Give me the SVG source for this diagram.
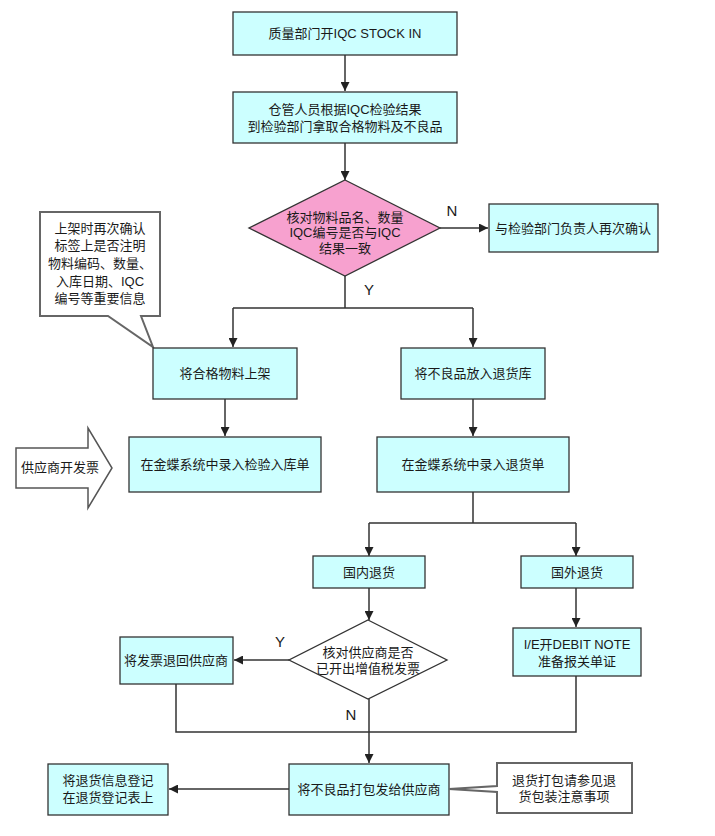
<svg xmlns="http://www.w3.org/2000/svg" width="715" height="836" viewBox="0 0 715 836">
<defs>
<marker id="ah" viewBox="0 0 10 10" refX="10" refY="5" markerWidth="9" markerHeight="9" markerUnits="userSpaceOnUse" orient="auto">
<path d="M0,0 L10,5 L0,10 Z" fill="#222"/>
</marker>
<style>
.box{fill:#ccffff;stroke:#333;stroke-width:1.3}
.dia{fill:#f7a1cf;stroke:#333;stroke-width:1.3}
.dia2{fill:#ffffff;stroke:#333;stroke-width:1.3}
.call{fill:#ffffff;stroke:#666;stroke-width:2}
.ln{fill:none;stroke:#333;stroke-width:1.5}
.ar{fill:none;stroke:#333;stroke-width:1.5;marker-end:url(#ah)}
text{font-family:"Liberation Sans","Noto Sans CJK SC",sans-serif;font-size:13px;fill:#1a1a1a;text-anchor:middle}
.lab{font-size:15px}
</style>
</defs>
<rect width="715" height="836" fill="#ffffff"/>
<g id="connectors">
<path class="ar" d="M345,55 V91"/>
<path class="ar" d="M345,143 V180"/>
<path class="ar" d="M440,228 H488"/>
<path class="ln" d="M345,276 V308 M233,308 H473"/>
<path class="ar" d="M233,308 V347"/>
<path class="ar" d="M473,308 V347"/>
<path class="ar" d="M225,399 V436"/>
<path class="ar" d="M473,399 V436"/>
<path class="ln" d="M473,492 V523 M369,523 H576"/>
<path class="ar" d="M369,523 V556"/>
<path class="ar" d="M576,523 V556"/>
<path class="ar" d="M369,588 V620"/>
<path class="ar" d="M576,588 V627"/>
<path class="ar" d="M289,660 H234"/>
<path class="ln" d="M176,684 V732 H576 V676"/>
<path class="ar" d="M369,699 V763"/>
<path class="ar" d="M289,789 H169"/>
</g>
<g id="labels">
<text class="lab" x="452" y="216">N</text>
<text class="lab" x="369" y="295">Y</text>
<text class="lab" x="280" y="647">Y</text>
<text class="lab" x="351" y="720">N</text>
</g>
<g id="n1"><rect class="box" x="233" y="12" width="224" height="43"/><text x="345" y="38">质量部门开IQC STOCK IN</text></g>
<g id="n2"><rect class="box" x="233" y="92" width="224" height="51"/><text x="345" y="114">仓管人员根据IQC检验结果</text><text x="345" y="131">到检验部门拿取合格物料及不良品</text></g>
<g id="d1"><polygon class="dia" points="345,180 440,228 345,276 249,228"/><text x="345" y="222">核对物料品名、数量</text><text x="345" y="237">IQC编号是否与IQC</text><text x="345" y="253">结果一致</text></g>
<g id="n3"><rect class="box" x="489" y="204" width="169" height="48"/><text x="573" y="233">与检验部门负责人再次确认</text></g>
<g id="callout1"><path class="call" d="M40,212 H160 V316 H141 L153,347 L108,316 H40 Z"/><text x="100" y="233">上架时再次确认</text><text x="100" y="250">标签上是否注明</text><text x="100" y="268">物料编码、数量、</text><text x="100" y="286">入库日期、IQC</text><text x="100" y="303">编号等重要信息</text></g>
<g id="n4"><rect class="box" x="153" y="348" width="144" height="51"/><text x="225" y="378">将合格物料上架</text></g>
<g id="n5"><rect class="box" x="401" y="348" width="144" height="51"/><text x="473" y="378">将不良品放入退货库</text></g>
<g id="arrow-supplier"><path class="call" style="stroke-width:1.5;stroke:#555" d="M16,448 H88 V428 L112,468 L88,508 V488 H16 Z"/><text x="60" y="472">供应商开发票</text></g>
<g id="n6"><rect class="box" x="129" y="437" width="192" height="55"/><text x="225" y="469">在金蝶系统中录入检验入库单</text></g>
<g id="n7"><rect class="box" x="377" y="437" width="192" height="55"/><text x="473" y="469">在金蝶系统中录入退货单</text></g>
<g id="n8"><rect class="box" x="313" y="556" width="112" height="32"/><text x="369" y="577">国内退货</text></g>
<g id="n9"><rect class="box" x="521" y="556" width="112" height="32"/><text x="577" y="577">国外退货</text></g>
<g id="d2"><polygon class="dia2" points="368,620 447,660 368,699 289,660"/><text x="368" y="657">核对供应商是否</text><text x="368" y="673">已开出增值税发票</text></g>
<g id="n10"><rect class="box" x="513" y="628" width="128" height="48"/><text x="577" y="649">I/E开DEBIT NOTE</text><text x="577" y="666">准备报关单证</text></g>
<g id="n11"><rect class="box" x="120" y="637" width="113" height="47"/><text x="176" y="665">将发票退回供应商</text></g>
<g id="n12"><rect class="box" x="289" y="764" width="160" height="51"/><text x="369" y="794">将不良品打包发给供应商</text></g>
<g id="n13"><rect class="box" x="48" y="764" width="120" height="51"/><text x="108" y="785">将退货信息登记</text><text x="108" y="802">在退货登记表上</text></g>
<g id="callout2"><path class="call" d="M497,763 H632 V813 H497 V792 L449,789 L497,786 Z"/><text x="564" y="785">退货打包请参见退</text><text x="564" y="801">货包装注意事项</text></g>
</svg>
